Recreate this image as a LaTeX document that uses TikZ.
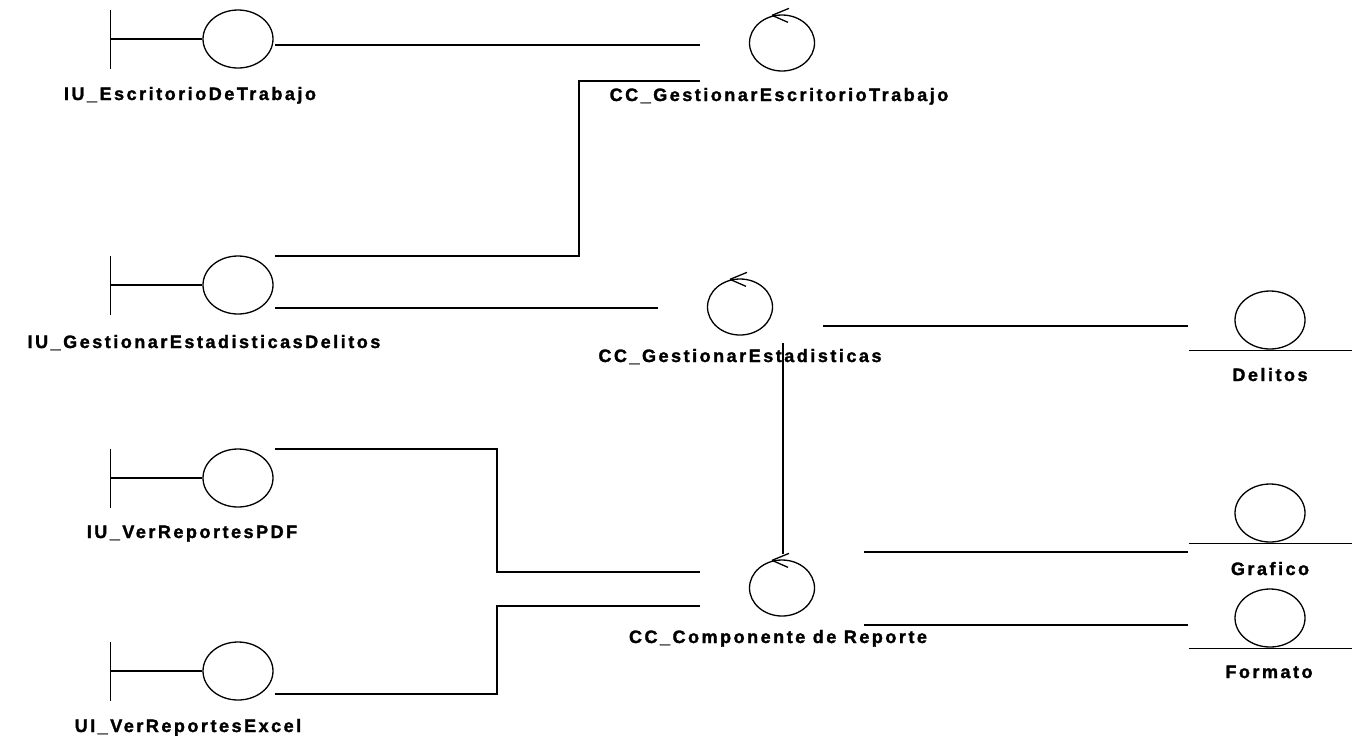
\documentclass[tikz,border=0pt]{standalone}
\usepackage{fontspec}
\setmainfont{Liberation Sans}
\newfontfamily\lblfont{Liberation Sans}[LetterSpace=14,UprightFont={* Bold},UprightFeatures={FakeBold=1.6}]
\usetikzlibrary{shapes.geometric}
\begin{document}
\begin{tikzpicture}[x=1pt,y=-1pt,line width=1.3pt,
  iconcirc/.style={draw,ellipse,inner sep=0pt,minimum width=70pt,minimum height=58pt},
  ctrlcirc/.style={draw,ellipse,inner sep=0pt,minimum width=65pt,minimum height=56pt},
  lbl/.style={anchor=base,inner sep=0pt,font=\lblfont\fontsize{18}{20}\selectfont}]
\useasboundingbox[fill=white] (0,0) rectangle (1359,740);

% ---- boundary objects: circle, stem and vertical bar
\node[iconcirc] (b1) at (238,39) {};
\node[iconcirc] (b2) at (238,285) {};
\node[iconcirc] (b3) at (238,478) {};
\node[iconcirc] (b4) at (238,671) {};
\foreach \b in {b1,b2,b3,b4}{
  \path (\b.west) ++(-92,0) coordinate (\b bar);
  \draw (\b.west) -- (\b bar);
  \draw ([yshift=29.5pt]\b bar) -- ([yshift=-29.5pt]\b bar);
}

% ---- control objects: circle with a small arrowhead on top
\node[ctrlcirc] (c1) at (782,43) {};
\node[ctrlcirc] (c2) at (740,307) {};
\node[ctrlcirc] (c3) at (782,588) {};
\foreach \c in {c1,c2,c3}{
  \draw ([xshift=-10pt,yshift=-1pt]\c.north) coordinate (\c tip) -- +(17,-7);
  \draw (\c tip) -- +(16,7);
}

% ---- entity objects: circle resting on a line
\node[iconcirc] (e1) at (1270,320) {};
\node[iconcirc] (e2) at (1270,513) {};
\node[iconcirc] (e3) at (1270,618) {};
\foreach \e in {e1,e2,e3}{
  \draw ([xshift=-81pt,yshift=-0.5pt]\e.south) -- ([xshift=82pt,yshift=-0.5pt]\e.south);
}

% ---- labels
\node[lbl] (l1) at (190,100) {IU\_EscritorioDeTrabajo};
\node[lbl] (l2) at (779,101) {CC\_GestionarEscritorioTrabajo};
\node[lbl] (l3) at (204,348) {IU\_GestionarEstadisticasDelitos};
\node[lbl] (l4) at (740,362) {CC\_GestionarEstadisticas};
\node[lbl] (l5) at (1270,381) {Delitos};
\node[lbl] (l6) at (192,538) {IU\_VerReportesPDF};
\node[lbl] (l7) at (1270,575) {Grafico};
\node[lbl] (l8) at (778,643) {CC\_Componente de Reporte};
\node[lbl] (l9) at (1269,678) {Formato};
\node[lbl] (l10) at (188,732) {UI\_VerReportesExcel};

% ---- connector end points next to the objects
\coordinate (b1o) at (275,45);
\coordinate (b2o) at (275,256);
\coordinate (b2p) at (275,308);
\coordinate (b3o) at (275,449);
\coordinate (b4o) at (275,694);
\coordinate (c1a) at (700,45);
\coordinate (c1b) at (700,81);
\coordinate (c2a) at (658,308);
\coordinate (c2e) at (823,326);
\coordinate (c2d) at (783,343);
\coordinate (c3u) at (783,554);
\coordinate (c3a) at (700,572);
\coordinate (c3b) at (700,606);
\coordinate (c3e) at (864,552);
\coordinate (c3f) at (864,625);
\coordinate (e1i) at (1188,326);
\coordinate (e2i) at (1188,552);
\coordinate (e3i) at (1188,625);

% ---- connectors
\draw (b1o) -- (c1a);
\draw (b2o) -- (579,256) -- (579,81) -- (c1b);
\draw (b2p) -- (c2a);
\draw (c2e) -- (e1i);
\draw (c2d) -- (c3u);
\draw (b3o) -- (497,449) -- (497,572) -- (c3a);
\draw (b4o) -- (497,694) -- (497,606) -- (c3b);
\draw (c3e) -- (e2i);
\draw (c3f) -- (e3i);
\end{tikzpicture}
\end{document}
